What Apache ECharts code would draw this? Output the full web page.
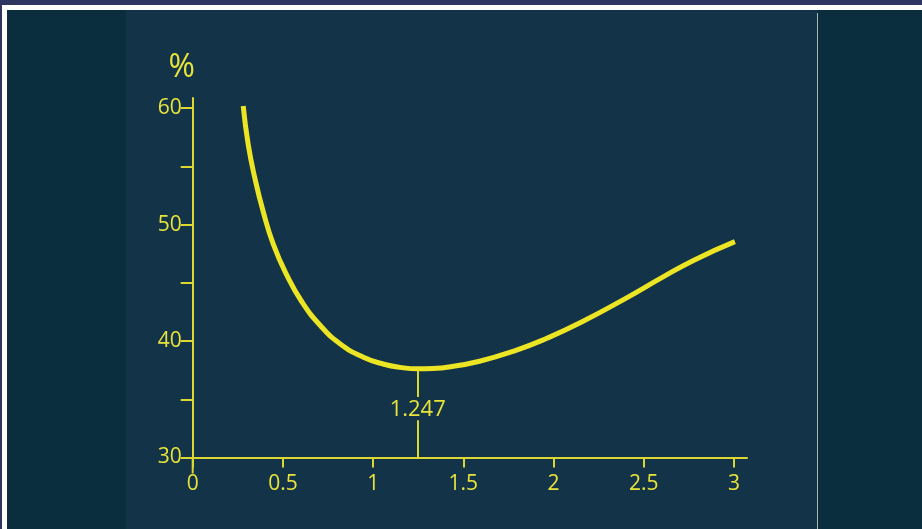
<!DOCTYPE html>
<html>
<head>
<meta charset="utf-8">
<script src="https://cdn.jsdelivr.net/npm/echarts@6/dist/echarts.min.js"></script>
<style>
    html, body { margin: 0; padding: 0; width: 922px; height: 529px; overflow: hidden; background: #2f3561; }
    #frame { position: absolute; left: 2px; top: 5px; width: 920px; height: 524px; background: #ffffff; }
    #chart { position: absolute; left: 7px; top: 10px; width: 915px; height: 519px; background: #0b2e3e; }
</style>
</head>
<body>
<div id="frame"></div>
<div id="chart"></div>
<script>
// values
const xValues = [0.28, 0.308, 0.345, 0.391, 0.447, 0.521, 0.604, 0.706, 0.816, 0.946, 1.06, 1.15, 1.247, 1.33, 1.41, 1.59, 1.78, 1.96, 2.15, 2.405, 2.59, 2.775, 3.005];
const yValues = [60.2, 56.85, 53.96, 51.11, 48.31, 45.68, 43.4, 41.36, 39.78, 38.61, 38.01, 37.74, 37.62, 37.65, 37.75, 38.27, 39.14, 40.22, 41.59, 43.71, 45.36, 46.93, 48.54];
const xTicks = [0, 0.5, 1, 1.5, 2, 2.5, 3];
const yTicks = [30, 35, 40, 45, 50, 55, 60];
const yLabels = [30, 40, 50, 60];
const minX = 1.247;
const minY = 37.55;

const yellow = "#ece524";
const axisYellow = "#dcd732";
const textYellow = "#e8e33a";
const font = "Open Sans";

const chart = echarts.init(document.getElementById("chart"));
const option = {
    animation: false,
    backgroundColor: "transparent",
    grid: {
        left: 185.7,
        right: 175,
        top: 88,
        bottom: 71.5
    },
    xAxis: {
        type: "value",
        min: 0,
        max: 3.072,
        splitLine: { show: false },
        axisLine: { lineStyle: { color: axisYellow, width: 2 } },
        axisTick: {
            customValues: xTicks,
            length: 10,
            lineStyle: { color: axisYellow, width: 2 }
        },
        axisLabel: {
            customValues: xTicks,
            color: textYellow,
            fontFamily: font,
            fontSize: 21,
            margin: 16
        }
    },
    yAxis: {
        type: "value",
        min: 30,
        max: 60.88,
        name: "%",
        nameLocation: "end",
        nameGap: 14,
        nameTextStyle: {
            color: textYellow,
            fontFamily: font,
            fontSize: 32,
            padding: [0, 22, 0, 0]
        },
        splitLine: { show: false },
        axisLine: { show: true, lineStyle: { color: axisYellow, width: 2 } },
        axisTick: {
            customValues: yTicks,
            length: 12,
            lineStyle: { color: axisYellow, width: 2 }
        },
        axisLabel: {
            customValues: yLabels,
            color: textYellow,
            fontFamily: font,
            fontSize: 21,
            margin: 11
        }
    },
    series: [
        {
            type: "line",
            data: xValues.map((x, i) => [x, yValues[i]]),
            smooth: 0.5,
            showSymbol: false,
            lineStyle: { color: yellow, width: 5 },
            z: 3,
            markLine: {
                silent: true,
                symbol: ["none", "none"],
                label: { show: false },
                lineStyle: { color: axisYellow, width: 2, type: "solid" },
                data: [
                    [{ coord: [minX, 30] }, { coord: [minX, 33.2] }],
                    [{ coord: [minX, 35.2] }, { coord: [minX, minY] }]
                ]
            },
            markPoint: {
                silent: true,
                symbol: "circle",
                symbolSize: 0,
                label: {
                    show: true,
                    position: "inside",
                    formatter: String(minX),
                    color: textYellow,
                    fontFamily: font,
                    fontSize: 22
                },
                data: [{ coord: [minX, 34.08] }]
            }
        }
    ]
};
chart.setOption(option);

// panels behind the plot, and the y axis line running a little below the x axis
const origin = chart.convertToPixel({ gridIndex: 0 }, [0, 30]);
chart.setOption({
    graphic: [
        {
            type: "rect",
            z: -10,
            shape: { x: 119, y: 0, width: 691, height: 519 },
            style: { fill: "#133349" }
        },
        {
            type: "rect",
            z: -10,
            shape: { x: 810, y: 3, width: 1, height: 516 },
            style: { fill: "#a3b9b1" }
        },
        {
            type: "line",
            z: 5,
            shape: { x1: origin[0], y1: origin[1], x2: origin[0], y2: origin[1] + 16 },
            style: { stroke: axisYellow, lineWidth: 2 }
        }
    ]
});
</script>
</body>
</html>
